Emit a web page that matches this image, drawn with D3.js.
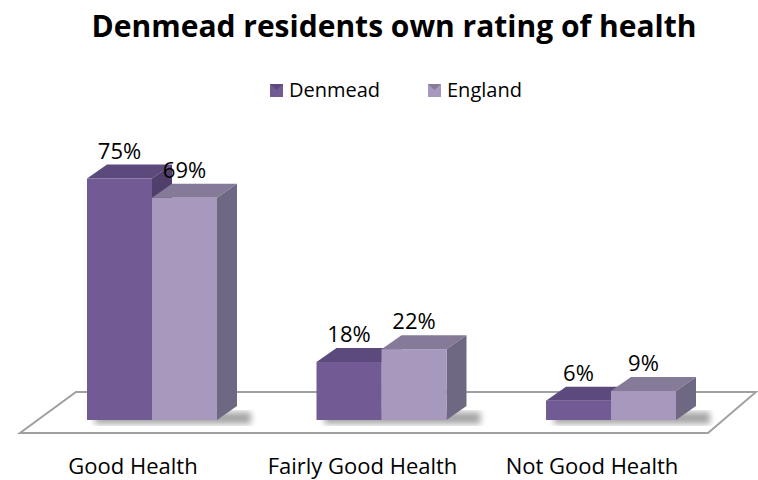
<!DOCTYPE html>
<meta charset="utf-8">
<script src="https://d3js.org/d3.v7.min.js"></script>
<style>
  body { margin: 0; background: #fff; }
  text { font-family: "Open Sans", "Noto Sans", sans-serif; }
</style>
<div id="chart"></div>
<script>

// data
var categories = ["Good Health", "Fairly Good Health", "Not Good Health"];
var series = ["Denmead", "England"];
var denmead = [75, 18, 6];
var england = [69, 22, 9];

var W = 758, H = 480;
var dx = 20, dy = -14;   // depth of the 3d boxes

var svg = d3.select("#chart").append("svg")
    .attr("width", W)
    .attr("height", H);

var defs = svg.append("defs");
defs.append("filter").attr("id", "blur")
  .append("feGaussianBlur").attr("stdDeviation", 3);

// colours for each series: front, top, side
var colors = {
  Denmead: {front: "#725a95", top: "#5d4a7c", side: "#4f3f6a"},
  England: {front: "#a798be", top: "#857b99", side: "#6f6882"}
};

// scales
var x = d3.scaleBand()
    .domain(categories)
    .range([37.25, 725.75])
    .paddingInner(0.4336)
    .paddingOuter(0.2168);

var xs = d3.scaleBand()
    .domain(series)
    .range([0, x.bandwidth()]);

var y = d3.scaleLinear()
    .domain([0, 100])
    .range([420, 98]);

// title
svg.append("text")
    .attr("x", 394)
    .attr("y", 37)
    .attr("text-anchor", "middle")
    .attr("font-size", 30)
    .attr("font-weight", "bold")
    .text("Denmead residents own rating of health");

// legend
var legend = svg.append("g");
var legendX = [270, 428];
series.forEach(function (s, i) {
  var g = legend.append("g").attr("transform", "translate(" + legendX[i] + ",84)");
  g.append("rect").attr("width", 13).attr("height", 13).attr("fill", colors[s].front);
  g.append("path").attr("d", "M0,0 L13,0 L6.5,6 Z").attr("fill", colors[s].top);
  g.append("text").attr("x", 19).attr("y", 13).attr("font-size", 20).text(s);
});

// floor
svg.append("path")
    .attr("d", "M20,433 L708,433 L756,392 L76,392 Z")
    .attr("fill", "#fff")
    .attr("stroke", "#a0a0a0")
    .attr("stroke-width", 2);

// rows for drawing
var rows = [];
categories.forEach(function (c, i) {
  rows.push({cat: c, s: "Denmead", v: denmead[i]});
  rows.push({cat: c, s: "England", v: england[i]});
});

// shadows at the base
svg.append("g").selectAll("rect")
  .data(categories)
  .join("rect")
    .attr("x", function (d) { return x(d) + 8; })
    .attr("y", y(0) - 8)
    .attr("width", x.bandwidth() + dx + 6)
    .attr("height", 12)
    .attr("fill", "#000")
    .attr("opacity", 0.35)
    .attr("filter", "url(#blur)");

var bars = svg.append("g").selectAll("g")
  .data(rows)
  .join("g");

function x0(d) { return x(d.cat) + xs(d.s); }
function x1(d) { return x0(d) + xs.bandwidth(); }

// top faces
bars.append("path")
    .attr("d", function (d) {
      var t = y(d.v);
      return "M" + x0(d) + "," + t + " L" + (x0(d) + dx) + "," + (t + dy) +
             " L" + (x1(d) + dx) + "," + (t + dy) + " L" + x1(d) + "," + t + " Z";
    })
    .attr("fill", function (d) { return colors[d.s].top; });

// side faces
bars.append("path")
    .attr("d", function (d) {
      var t = y(d.v), b = y(0);
      return "M" + x1(d) + "," + t + " L" + (x1(d) + dx) + "," + (t + dy) +
             " L" + (x1(d) + dx) + "," + (b + dy) + " L" + x1(d) + "," + b + " Z";
    })
    .attr("fill", function (d) { return colors[d.s].side; });

// front faces
bars.append("rect")
    .attr("x", x0)
    .attr("y", function (d) { return y(d.v); })
    .attr("width", xs.bandwidth())
    .attr("height", function (d) { return y(0) - y(d.v); })
    .attr("fill", function (d) { return colors[d.s].front; });

// value labels
svg.append("g").selectAll("text")
  .data(rows)
  .join("text")
    .attr("x", function (d) { return x0(d) + xs.bandwidth() / 2; })
    .attr("y", function (d) { return y(d.v) - 20; })
    .attr("text-anchor", "middle")
    .attr("font-size", 22)
    .text(function (d) { return d.v + "%"; });

// category labels
svg.append("g").selectAll("text")
  .data(categories)
  .join("text")
    .attr("x", function (d) { return x(d) + x.bandwidth() / 2 - 19; })
    .attr("y", 474)
    .attr("text-anchor", "middle")
    .attr("font-size", 22)
    .text(function (d) { return d; });

</script>
